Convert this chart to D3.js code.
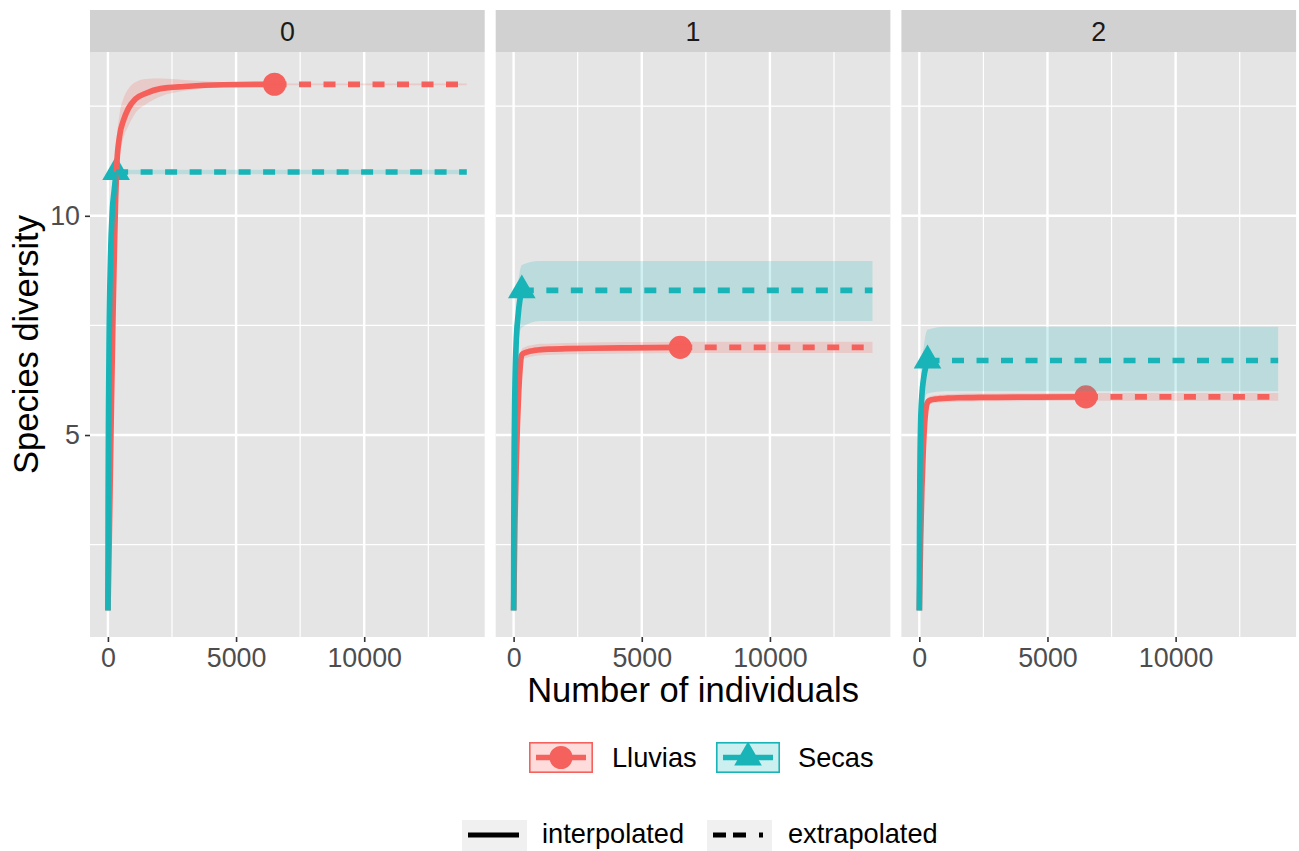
<!DOCTYPE html>
<html>
<head>
<meta charset="utf-8">
<script src="https://cdn.jsdelivr.net/npm/d3@7"></script>
<style>
  body { margin: 0; background: #fff; }
  text { font-family: "Liberation Sans", Arial, sans-serif; }
</style>
</head>
<body>
<svg id="chart" width="1299" height="851"></svg>
<script>
// facets, groups and ticks
var orders = ["0", "1", "2"],
    assemblages = ["Lluvias", "Secas"],
    colours = ["#F5615C", "#19B4B8"],
    sampleSize = [6500, 320],
    xTicks = [0, 5000, 10000],
    xMinor = [2500, 7500, 12500],
    yTicks = [5, 10],
    yMinor = [2.5, 7.5, 12.5],
    lineTypes = ["interpolated", "extrapolated"];

// Lluvias: sample sizes m and estimates per order q
var lluviasM   = [1, 50, 100, 150, 200, 250, 300, 350, 450, 620, 800, 1085, 1500, 2054, 3000, 4500, 6500, 10000, 14000];
var lluviasQ0  = [1, 2.6, 4.4, 6.2, 7.8, 9.2, 10.4, 11.2, 11.8, 12.2, 12.45, 12.67, 12.8, 12.9, 12.95, 12.99, 13, 13, 13];
var lluviasQ0Lo = [1, 2.5, 4.25, 6, 7.55, 8.85, 9.95, 10.7, 11.3, 11.8, 12.05, 12.35, 12.55, 12.72, 12.85, 12.94, 12.98, 12.98, 12.98];
var lluviasQ0Hi = [1, 2.7, 4.55, 6.4, 8.05, 9.55, 10.85, 11.7, 12.3, 12.7, 12.9, 13.05, 13.12, 13.13, 13.1, 13.05, 13.02, 13.02, 13.02];
var lluviasQ1  = [1, 3, 4.3, 5.3, 6, 6.5, 6.8, 6.85, 6.88, 6.91, 6.93, 6.95, 6.96, 6.97, 6.98, 6.99, 7, 7, 7];
var lluviasQ1Lo = [1, 2.95, 4.22, 5.2, 5.89, 6.38, 6.67, 6.72, 6.75, 6.78, 6.8, 6.82, 6.83, 6.84, 6.85, 6.86, 6.87, 6.87, 6.87];
var lluviasQ1Hi = [1, 3.05, 4.38, 5.4, 6.11, 6.62, 6.93, 6.98, 7.01, 7.04, 7.06, 7.08, 7.09, 7.1, 7.11, 7.12, 7.13, 7.13, 7.13];
var lluviasQ2  = [1, 2.6, 3.8, 4.6, 5.2, 5.55, 5.72, 5.77, 5.8, 5.82, 5.83, 5.84, 5.85, 5.855, 5.86, 5.865, 5.87, 5.87, 5.87];
var lluviasQ2Lo = [1, 2.56, 3.73, 4.52, 5.11, 5.46, 5.63, 5.68, 5.71, 5.73, 5.74, 5.75, 5.76, 5.765, 5.77, 5.775, 5.78, 5.78, 5.78];
var lluviasQ2Hi = [1, 2.64, 3.87, 4.68, 5.29, 5.64, 5.81, 5.86, 5.89, 5.91, 5.92, 5.93, 5.94, 5.945, 5.95, 5.955, 5.96, 5.96, 5.96];

// Secas
var secasM   = [1, 10, 25, 50, 100, 170, 250, 320, 1000, 5000, 10000, 14000];
var secasQ0  = [1, 3.5, 5.5, 7.3, 9, 10.1, 10.6, 11, 11, 11, 11, 11];
var secasQ0Lo = [1, 3.45, 5.42, 7.2, 8.9, 10, 10.52, 10.95, 10.95, 10.95, 10.95, 10.95];
var secasQ0Hi = [1, 3.55, 5.58, 7.4, 9.1, 10.2, 10.68, 11.05, 11.05, 11.05, 11.05, 11.05];
var secasQ1  = [1, 3.2, 4.8, 6, 7.1, 7.7, 8.1, 8.3, 8.3, 8.3, 8.3, 8.3];
var secasQ1Lo = [1, 2.9, 4.3, 5.4, 6.4, 7, 7.35, 7.45, 7.6, 7.6, 7.6, 7.6];
var secasQ1Hi = [1, 3.5, 5.3, 6.6, 7.8, 8.4, 8.75, 8.88, 8.97, 8.97, 8.97, 8.97];
var secasQ2  = [1, 2.8, 4.2, 5.2, 5.9, 6.3, 6.55, 6.7, 6.7, 6.7, 6.7, 6.7];
var secasQ2Lo = [1, 2.5, 3.7, 4.6, 5.3, 5.7, 5.9, 5.95, 6, 6, 6, 6];
var secasQ2Hi = [1, 3.1, 4.7, 5.8, 6.6, 7, 7.3, 7.4, 7.47, 7.47, 7.47, 7.47];

var estimates = [
  [[lluviasQ0, lluviasQ0Lo, lluviasQ0Hi], [secasQ0, secasQ0Lo, secasQ0Hi]],
  [[lluviasQ1, lluviasQ1Lo, lluviasQ1Hi], [secasQ1, secasQ1Lo, secasQ1Hi]],
  [[lluviasQ2, lluviasQ2Lo, lluviasQ2Hi], [secasQ2, secasQ2Lo, secasQ2Hi]]
];
var sizes = [lluviasM, secasM];

function rows(m, est){
    return m.map(function(v, i){
        return {m: v, qD: est[0][i], lo: est[1][i], hi: est[2][i]};
    });
}

var panels = orders.map(function(q, i){
    return assemblages.map(function(a, j){
        return {name: a, col: colours[j], n: sampleSize[j], pts: rows(sizes[j], estimates[i][j])};
    });
});

// layout
var font = '"Liberation Sans", Arial, sans-serif',
    panelW = 394.7, panelGap = 11, panelLeft = 90,
    stripTop = 10, panelTop = 52, panelBottom = 637;

function expand(ext){
    var d = (ext[1] - ext[0]) * 0.05;
    return [ext[0] - d, ext[1] + d];
}

var allPts = [].concat.apply([], panels.map(function(p){
    return [].concat.apply([], p.map(function(s){ return s.pts; }));
}));

var x = d3.scaleLinear()
    .domain(expand(d3.extent(allPts, function(d){ return d.m; })))
    .range([0, panelW]);
var y = d3.scaleLinear()
    .domain(expand([d3.min(allPts, function(d){ return d.lo; }), d3.max(allPts, function(d){ return d.hi; })]))
    .range([panelBottom - panelTop, 0]);

var svg = d3.select('#chart');
svg.append('rect').attr('width', 1299).attr('height', 851).attr('fill', '#fff');
var defs = svg.append('defs');

var line = d3.line()
    .x(function(d){ return x(d.m); })
    .y(function(d){ return y(d.qD); })
    .curve(d3.curveMonotoneX);
var area = d3.area()
    .x(function(d){ return x(d.m); })
    .y0(function(d){ return y(d.lo); })
    .y1(function(d){ return y(d.hi); })
    .curve(d3.curveMonotoneX);

var shapes = [d3.symbolCircle, d3.symbolTriangle],
    shapeSize = [420, 330];

panels.forEach(function(series, i){
    var px = panelLeft + i * (panelW + panelGap);

    // strip
    svg.append('rect')
        .attr('x', px).attr('y', stripTop)
        .attr('width', panelW).attr('height', panelTop - stripTop)
        .attr('fill', '#D1D1D1');
    svg.append('text')
        .attr('x', px + panelW / 2).attr('y', 41)
        .attr('text-anchor', 'middle')
        .attr('font-size', 26.8).attr('fill', '#1A1A1A')
        .text(orders[i]);

    defs.append('clipPath').attr('id', 'clip' + i)
        .append('rect').attr('width', panelW).attr('height', panelBottom - panelTop);

    var g = svg.append('g').attr('transform', 'translate(' + px + ',' + panelTop + ')');
    g.append('rect')
        .attr('width', panelW).attr('height', panelBottom - panelTop)
        .attr('fill', '#E5E5E5');

    // grid
    var grid = g.append('g').attr('stroke', '#fff');
    grid.selectAll('.vx').data(xMinor).enter().append('line')
        .attr('x1', x).attr('x2', x).attr('y1', 0).attr('y2', panelBottom - panelTop)
        .attr('stroke-width', 1.2);
    grid.selectAll('.hy').data(yMinor).enter().append('line')
        .attr('y1', y).attr('y2', y).attr('x1', 0).attr('x2', panelW)
        .attr('stroke-width', 1.2);
    grid.selectAll('.vX').data(xTicks).enter().append('line')
        .attr('x1', x).attr('x2', x).attr('y1', 0).attr('y2', panelBottom - panelTop)
        .attr('stroke-width', 2.4);
    grid.selectAll('.hY').data(yTicks).enter().append('line')
        .attr('y1', y).attr('y2', y).attr('x1', 0).attr('x2', panelW)
        .attr('stroke-width', 2.4);

    var plot = g.append('g').attr('clip-path', 'url(#clip' + i + ')');

    // observed points first, as ggiNEXT does
    series.forEach(function(s, j){
        var obs = s.pts.filter(function(d){ return d.m === s.n; })[0];
        plot.append('path')
            .attr('d', d3.symbol().type(shapes[j]).size(shapeSize[j])())
            .attr('transform', 'translate(' + x(obs.m) + ',' + y(obs.qD) + ')')
            .attr('fill', s.col);
    });

    series.forEach(function(s){
        plot.append('path')
            .datum(s.pts.filter(function(d){ return d.m <= s.n; }))
            .attr('d', line)
            .attr('fill', 'none').attr('stroke', s.col).attr('stroke-width', 5.7);
        plot.append('path')
            .datum(s.pts.filter(function(d){ return d.m >= s.n; }))
            .attr('d', line)
            .attr('fill', 'none').attr('stroke', s.col).attr('stroke-width', 5.7)
            .attr('stroke-dasharray', '12,12.5');
    });

    series.forEach(function(s){
        plot.append('path')
            .datum(s.pts)
            .attr('d', area)
            .attr('fill', s.col).attr('fill-opacity', 0.2);
    });

    // x axis
    var xa = svg.append('g')
        .attr('transform', 'translate(' + px + ',' + panelBottom + ')')
        .call(d3.axisBottom(x).tickValues(xTicks).tickFormat(d3.format('d')).tickSize(5).tickPadding(6));
    xa.select('.domain').remove();
    xa.selectAll('line').attr('stroke', '#333').attr('stroke-width', 1.6);
    xa.selectAll('text').attr('font-size', 26.8).attr('fill', '#4D4D4D').attr('font-family', font);
});

// y axis
var ya = svg.append('g')
    .attr('transform', 'translate(' + panelLeft + ',' + panelTop + ')')
    .call(d3.axisLeft(y).tickValues(yTicks).tickSize(5).tickPadding(5));
ya.select('.domain').remove();
ya.selectAll('line').attr('stroke', '#333').attr('stroke-width', 1.6);
ya.selectAll('text').attr('font-size', 26.8).attr('fill', '#4D4D4D').attr('font-family', font);

// titles
svg.append('text')
    .attr('x', panelLeft + (3 * panelW + 2 * panelGap) / 2).attr('y', 702)
    .attr('text-anchor', 'middle').attr('font-size', 34.5).attr('fill', '#000')
    .text('Number of individuals');
svg.append('text')
    .attr('transform', 'translate(38,' + (panelTop + panelBottom) / 2 + ') rotate(-90)')
    .attr('text-anchor', 'middle').attr('font-size', 34.5).attr('fill', '#000')
    .text('Species diversity');

// legend: assemblages
var keyX = [529, 716], keyTextX = [612, 798];
assemblages.forEach(function(a, j){
    var k = svg.append('g').attr('transform', 'translate(' + keyX[j] + ',742)');
    k.append('rect').attr('width', 64).attr('height', 31)
        .attr('fill', '#fff');
    k.append('rect').attr('x', 0.8).attr('y', 0.8).attr('width', 62.4).attr('height', 29.4)
        .attr('fill', colours[j]).attr('fill-opacity', 0.22)
        .attr('stroke', colours[j]).attr('stroke-width', 1.6);
    k.append('line').attr('x1', 7).attr('x2', 57).attr('y1', 15.5).attr('y2', 15.5)
        .attr('stroke', colours[j]).attr('stroke-width', 5.7);
    k.append('path')
        .attr('d', d3.symbol().type(shapes[j]).size(shapeSize[j])())
        .attr('transform', 'translate(32,15.5)')
        .attr('fill', colours[j]);
    svg.append('text').attr('x', keyTextX[j]).attr('y', 767)
        .attr('font-size', 27.2).attr('fill', '#000').text(a);
});

// legend: line types
var ltX = [462, 707], ltTextX = [542, 788], ltDash = [null, '13,7,13,13,4,40'];
lineTypes.forEach(function(t, j){
    var k = svg.append('g').attr('transform', 'translate(' + ltX[j] + ',820)');
    k.append('rect').attr('width', 65).attr('height', 34).attr('fill', '#F0F0F0');
    k.append('line').attr('x1', 6).attr('x2', 57).attr('y1', 15).attr('y2', 15)
        .attr('stroke', '#000').attr('stroke-width', 5)
        .attr('stroke-dasharray', ltDash[j]);
    svg.append('text').attr('x', ltTextX[j]).attr('y', 843)
        .attr('font-size', 27.2).attr('fill', '#000').text(t);
});
</script>
</body>
</html>
